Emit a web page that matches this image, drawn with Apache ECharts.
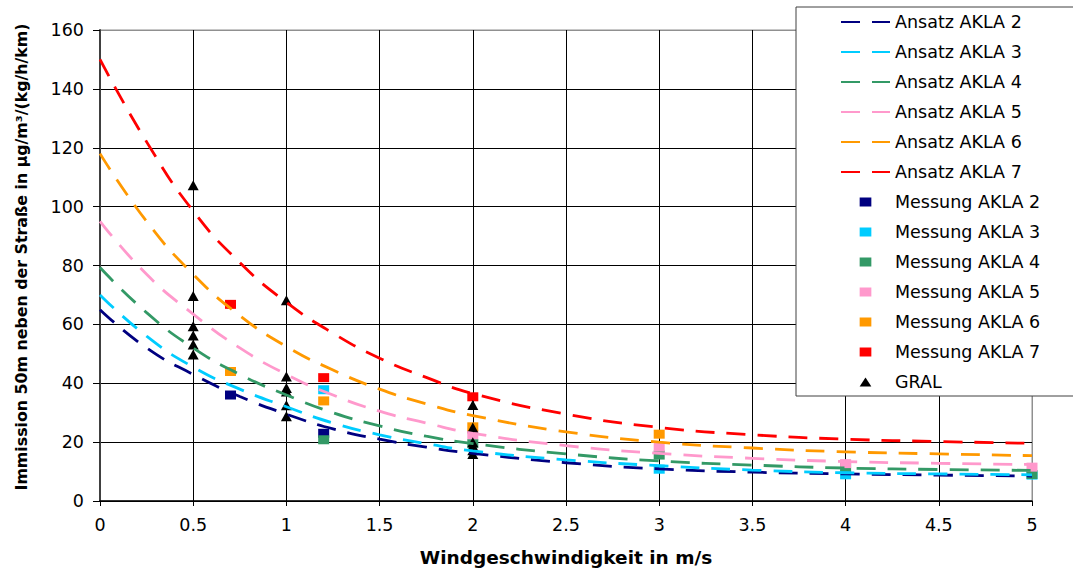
<!DOCTYPE html>
<html>
<head>
<meta charset="utf-8">
<script src="https://cdn.jsdelivr.net/npm/echarts@6/dist/echarts.min.js"></script>
<style>
html,body{margin:0;padding:0;background:#fff;}
#chart{width:1073px;height:572px;}
</style>
</head>
<body>
<div id="chart"></div>
<script>
const curveX = [0, 0.25, 0.5, 0.75, 1, 1.25, 1.5, 1.75, 2, 2.5, 3, 3.5, 4, 4.5, 5];
const ansatz2 = [65, 52, 43, 35.5, 29.5, 24.5, 21, 18.3, 16.2, 13, 10.9, 9.8, 9.2, 8.8, 8.5];
const ansatz3 = [70, 56, 45.5, 38, 32, 26.5, 22.5, 19.5, 17, 14, 12, 10.5, 9.6, 9.2, 8.9];
const ansatz4 = [79.3, 64, 52, 43, 36, 30, 25.5, 22, 19.5, 16, 13.6, 12.2, 11.2, 10.7, 10.4];
const ansatz5 = [95, 77, 63.5, 52, 43, 36, 30.5, 26.5, 23, 18.8, 16.2, 14.5, 13.4, 12.8, 12.4];
const ansatz6 = [118, 95, 77, 63, 52.5, 44.5, 38, 33, 29, 23.5, 20, 18, 16.7, 16, 15.4];
const ansatz7 = [150, 122, 98.5, 81, 67.5, 57, 48.5, 42, 36.5, 29.5, 25, 22.5, 21, 20.2, 19.6];

// measurements [wind speed, immission]
const messung2 = [[0.7, 36], [1.2, 23]];
const messung3 = [[1.2, 37.8], [3, 10.8], [4, 8.9], [5, 8.8]];
const messung4 = [[1.2, 20.8], [2, 19.5], [3, 15.6], [4, 11.5], [5, 9.0]];
const messung5 = [[2, 22.5], [3, 18.3], [4, 12.7], [5, 11.5]];
const messung6 = [[0.7, 44], [1.2, 34], [2, 25.2], [3, 22.7]];
const messung7 = [[0.7, 66.8], [1.2, 41.9], [2, 35.4]];
const gral = [[0.5, 107.3], [0.5, 69.6], [0.5, 59.4], [0.5, 56.2], [0.5, 53.2], [0.5, 49.8],
              [1, 68.2], [1, 42.3], [1, 38.4], [1, 37.2], [1, 32.5], [1, 28.8],
              [2, 32.6], [2, 25], [2, 20], [2, 18.8], [2, 17.2], [2, 16]];

const akla = ['2', '3', '4', '5', '6', '7'];
const colors = ['#000080', '#00CCFF', '#339966', '#FF99CC', '#FF9900', '#FF0000'];
const ansatz = [ansatz2, ansatz3, ansatz4, ansatz5, ansatz6, ansatz7];
const messung = [messung2, messung3, messung4, messung5, messung6, messung7];

const xTitle = 'Windgeschwindigkeit in m/s';
const yTitle = 'Immission 50m neben der Straße in µg/m³/(kg/h/km)';
const FONT = 'DejaVu Sans';

const series = [];
const legendData = [];
ansatz.forEach((vals, i) => {
  const name = 'Ansatz AKLA ' + akla[i];
  series.push({
    name, type: 'line', symbol: 'none', smooth: 0.5,
    data: curveX.map((x, j) => [x, vals[j]]),
    lineStyle: { color: colors[i], width: 2.8, type: [19, 12] },
    itemStyle: { color: colors[i] }
  });
  legendData.push({ name, itemStyle: { color: 'rgba(0,0,0,0)', borderColor: 'rgba(0,0,0,0)', borderWidth: 0, opacity: 0 } });
});
messung.forEach((pts, i) => {
  const name = 'Messung AKLA ' + akla[i];
  series.push({
    name, type: 'scatter', symbol: 'rect', symbolSize: [11, 9],
    data: pts, itemStyle: { color: colors[i], opacity: 1 }
  });
  legendData.push({ name, icon: 'path://M0,0L13,0L13,10L0,10Z' });
});
series.push({
  name: 'GRAL', type: 'scatter', symbol: 'triangle', symbolSize: [11, 10],
  data: gral, itemStyle: { color: '#000', opacity: 1 }
});
legendData.push({ name: 'GRAL', icon: 'path://M6.5,0L13,10L0,10Z' });

const xLines = []; for (let i = 0; i < 10; i++) xLines.push('#000'); xLines.push('#909090');
const yLines = []; for (let i = 0; i < 8; i++) yLines.push('#000'); yLines.push('#909090');

const chart = echarts.init(document.getElementById('chart'), null, { renderer: 'svg' });
chart.setOption({
  animation: false,
  backgroundColor: '#fff',
  textStyle: { fontFamily: FONT },
  grid: { left: 100, right: 41, top: 30, bottom: 70, show: true, borderColor: '#909090', borderWidth: 1 },
  xAxis: {
    type: 'value', min: 0, max: 5, interval: 0.5,
    name: xTitle, nameLocation: 'middle', nameGap: 47,
    nameTextStyle: { fontFamily: FONT, fontWeight: 'bold', fontSize: 18.5, color: '#000' },
    axisLine: { lineStyle: { color: '#000', width: 1.5 } },
    axisTick: { show: true, length: 5, lineStyle: { color: '#000' } },
    axisLabel: { fontFamily: FONT, fontSize: 17.5, color: '#000', margin: 15 },
    splitLine: { show: true, lineStyle: { color: xLines, width: 1 } }
  },
  yAxis: {
    type: 'value', min: 0, max: 160, interval: 20,
    axisLine: { show: true, lineStyle: { color: '#404040', width: 2 } },
    axisTick: { show: true, length: 7, lineStyle: { color: '#000' } },
    axisLabel: { fontFamily: FONT, fontSize: 17.5, color: '#000', margin: 16 },
    splitLine: { show: true, lineStyle: { color: yLines, width: 1 } }
  },
  legend: {
    orient: 'vertical', left: 796, top: 7,
    padding: [5, 60, 4, 44],
    backgroundColor: '#fff', borderColor: '#404040', borderWidth: 1,
    itemWidth: 49, itemHeight: 9, itemGap: 10,
    symbolKeepAspect: true,
    textStyle: { fontFamily: FONT, fontSize: 17.5, color: '#000', lineHeight: 20 },
    data: legendData
  },
  graphic: [{
    type: 'text', x: 21, y: 257, rotation: Math.PI / 2, silent: true,
    style: { text: yTitle, fontFamily: FONT, fontWeight: 'bold', fontSize: 15.8, fill: '#000',
             align: 'center', verticalAlign: 'middle' }
  }],
  series
});
</script>
</body>
</html>
